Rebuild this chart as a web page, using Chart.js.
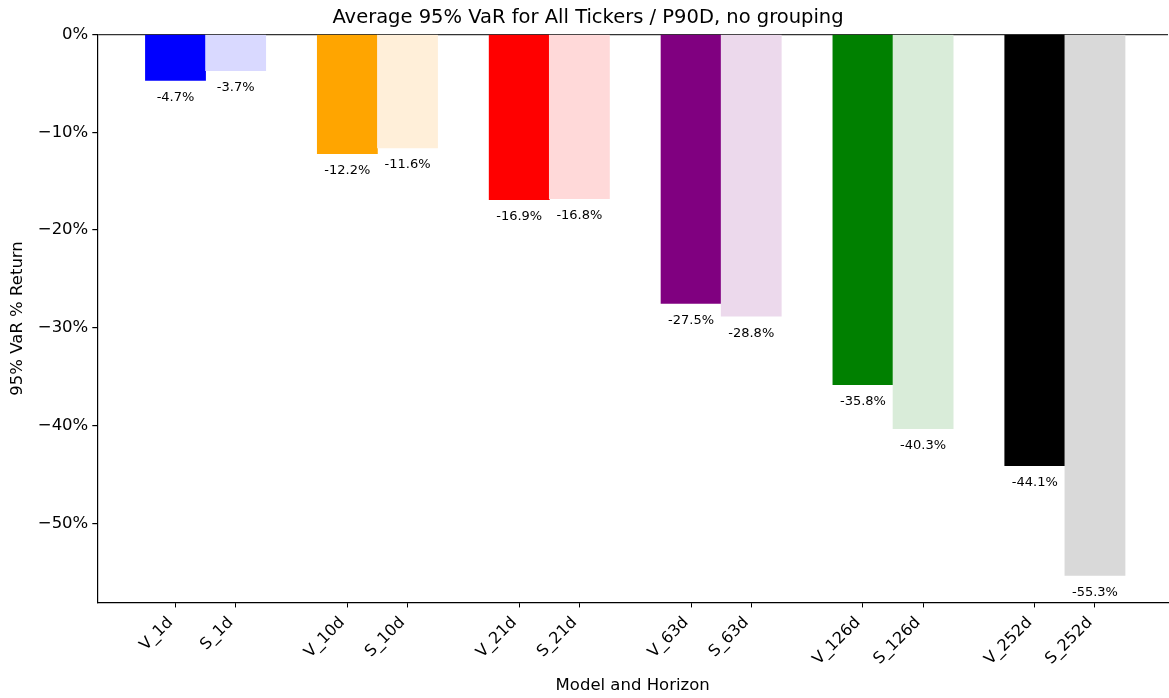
<!DOCTYPE html>
<html lang="en">
<head>
    <meta charset="UTF-8" />
    <title>Average 95% VaR</title>
    <script src="https://cdn.jsdelivr.net/npm/chart.js@4.4.1/dist/chart.umd.min.js"></script>
    <style>
        html, body { margin: 0; padding: 0; background: #fff; }
        #wrap { width: 1169px; height: 698px; }
    </style>
</head>
<body>
    <div id="wrap"><canvas id="varChart"></canvas></div>

    <script>
        // horizons and average 95% VaR (% return) per model
        const horizons = ['1d', '10d', '21d', '63d', '126d', '252d'];
        const varV = [-4.7, -12.2, -16.9, -27.5, -35.8, -44.1];
        const varS = [-3.7, -11.6, -16.8, -28.8, -40.3, -55.3];
        const yTicks = [0, -10, -20, -30, -40, -50];

        const colorsV = ['#0000ff', '#ffa500', '#ff0000', '#800080', '#008000', '#000000'];
        const colorsS = ['#d9d9ff', '#ffefd9', '#ffd9d9', '#ecd9ec', '#d9ecd9', '#d9d9d9'];

        const barW = 0.35;
        const points = [], labels = [], colors = [], xPos = [];
        horizons.forEach((h, i) => {
            points.push({ x: i - barW / 2, y: varV[i] });
            points.push({ x: i + barW / 2, y: varS[i] });
            labels.push('V_' + h, 'S_' + h);
            colors.push(colorsV[i], colorsS[i]);
            xPos.push(i - barW / 2, i + barW / 2);
        });

        const fmtPct = v => (v < 0 ? '\u2212' : '') + Math.abs(v) + '%';

        // value labels under each bar
        const barLabels = {
            id: 'barLabels',
            afterDatasetsDraw(chart) {
                const ctx = chart.ctx;
                const meta = chart.getDatasetMeta(0);
                ctx.save();
                ctx.font = '13px "DejaVu Sans"';
                ctx.fillStyle = '#000';
                ctx.textAlign = 'center';
                ctx.textBaseline = 'middle';
                meta.data.forEach((bar, i) => {
                    ctx.fillText(points[i].y.toFixed(1) + '%', bar.x, bar.y + 17);
                });
                ctx.restore();
            }
        };

        Chart.defaults.font.family = '"DejaVu Sans"';
        Chart.defaults.color = '#000';

        new Chart(document.getElementById('varChart'), {
            type: 'bar',
            data: {
                datasets: [{
                    data: points,
                    backgroundColor: colors,
                    borderWidth: 0,
                    barPercentage: 1,
                    categoryPercentage: 1
                }]
            },
            options: {
                responsive: true,
                maintainAspectRatio: false,
                animation: false,
                layout: { padding: { left: 8, right: 1, top: 0, bottom: 2 } },
                plugins: {
                    legend: { display: false },
                    tooltip: { enabled: false },
                    title: {
                        display: true,
                        text: 'Average 95% VaR for All Tickers / P90D, no grouping',
                        font: { size: 19.5, weight: 'normal' },
                        padding: { top: 6, bottom: 5 }
                    }
                },
                scales: {
                    x: {
                        type: 'linear',
                        offset: false,
                        min: -0.63,
                        max: 5.6,
                        afterBuildTicks: scale => { scale.ticks = xPos.map(v => ({ value: v })); },
                        ticks: {
                            minRotation: 45,
                            maxRotation: 45,
                            autoSkip: false,
                            padding: 6,
                            labelOffset: -5,
                            font: { size: 16 },
                            callback: (v, i) => labels[i]
                        },
                        grid: {
                            offset: false,
                            drawOnChartArea: false,
                            tickLength: 5,
                            tickColor: '#000',
                            color: '#000'
                        },
                        border: { color: '#000', width: 1.2 },
                        title: {
                            display: true,
                            text: 'Model and Horizon',
                            font: { size: 16.5 },
                            padding: { top: 1, bottom: 0 }
                        }
                    },
                    y: {
                        min: -58.07,
                        max: 0,
                        afterBuildTicks: scale => { scale.ticks = yTicks.map(v => ({ value: v })); },
                        ticks: {
                            font: { size: 16.5 },
                            padding: 4,
                            callback: v => fmtPct(v)
                        },
                        grid: {
                            drawOnChartArea: true,
                            tickLength: 5,
                            tickColor: '#000',
                            lineWidth: 1.2,
                            color: ctx => (ctx.tick && ctx.tick.value === 0 ? '#333' : 'transparent')
                        },
                        border: { color: '#000', width: 1.2 },
                        title: {
                            display: true,
                            text: '95% VaR % Return',
                            font: { size: 16.5 },
                            padding: { top: 0, bottom: 6 }
                        }
                    }
                }
            },
            plugins: [barLabels]
        });
    </script>
</body>
</html>
